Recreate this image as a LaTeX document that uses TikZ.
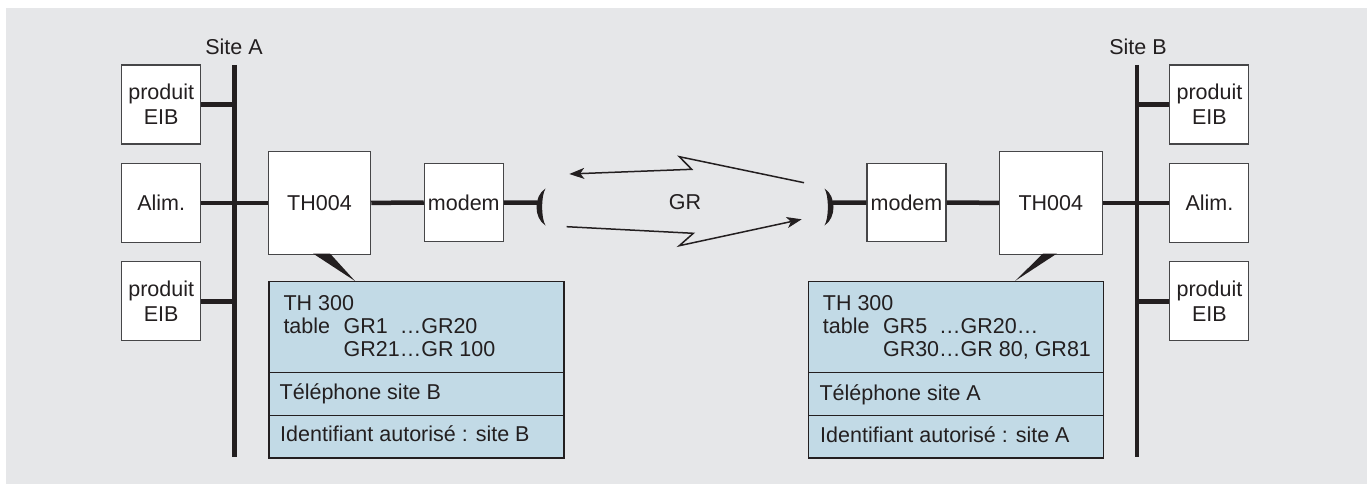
\documentclass[tikz,border=0pt]{standalone}
\usepackage{fontspec}
\setmainfont{Liberation Sans}
\usetikzlibrary{arrows.meta}
\definecolor{bg}{RGB}{230,231,233}
\definecolor{bluebox}{RGB}{194,218,230}
\definecolor{ink}{RGB}{35,31,32}
\definecolor{edge}{RGB}{70,70,72}
\begin{document}
\begin{tikzpicture}[x=1pt,y=-1pt,
  font=\fontsize{21.5}{23}\selectfont, text=ink,
  box/.style={draw=edge, line width=1.1pt, fill=white, inner sep=0pt,
    minimum width=79pt, minimum height=79pt, align=center,
    font=\fontsize{21.5}{25}\selectfont},
  bus/.style={line width=4.8pt, draw=ink},
  link/.style={line width=4.5pt, draw=ink},
  part/.style={draw=ink, line width=1.3pt, fill=bluebox, minimum width=295pt,
    inner sep=0pt, anchor=north west},
  txt/.style={anchor=base west, inner sep=0pt},
  sig/.style={line width=1.5pt, draw=ink, line join=miter,
    -{Stealth[length=15pt,width=11pt,inset=4pt]}}]
\useasboundingbox (0,0) rectangle (1367,484);
\fill[white] (0,0) rectangle (1367,484);
\fill[bg] (6,8) rectangle (1367,484);

% ---------- Site A ----------
\coordinate (busAt) at (234.7,65);
\coordinate (busAb) at (234.7,456.7);
\node (siteA) at (234,47) {Site A};
\node[box] (peA1) at (161.2,104.5) {produit\\EIB};
\node[box, minimum height=79.7pt] (alimA) at (161.2,202.9) {Alim.};
\node[box] (peA2) at (161.2,301.3) {produit\\EIB};
\node[box, minimum width=102.4pt, minimum height=102.3pt] (thA) at (319.5,202.9) {TH004};
\node[box, minimum height=78.4pt] (modemA) at (463.8,202.5) {modem};
\draw[bus] (busAt) -- (busAb);
\draw[link] (peA1.east) -- (peA1.east -| busAt);
\draw[link] (alimA.east) -- (thA.west);
\draw[link] (peA2.east) -- (peA2.east -| busAt);
\draw[link] (thA.east) -- (modemA.west);
\coordinate (parA) at (537,202.7);
\draw[link] (modemA.east) -- (parA);
\fill[ink] (545.5,188.5) .. controls (533.5,196) and (533.5,218) .. (545.5,225.5)
  .. controls (541,218) and (541,196) .. (545.5,188.5) -- cycle;

% callout A
\fill[ink] (313,253.5) -- (330,253.5) -- (355,281) -- cycle;
\node[part, minimum height=91pt] (pA1) at (268.3,281) {};
\node[part, minimum height=43pt] (pA2) at (268.3,372) {};
\node[part, minimum height=42.3pt] (pA3) at (268.3,415) {};
\node[txt] (tA1) at (283.3,310) {\begin{tabular}[t]{@{}l@{\hspace{13.5pt}}l@{}l@{}}
  \multicolumn{3}{@{}l@{}}{TH 300}\\
  table & GR1 & …GR20\\
        & GR21 & …GR 100
  \end{tabular}};
\node[txt] (tA2) at (279.5,399.5) {Téléphone site B};
\node[txt] (tA3) at (280,441.7) {Identifiant autorisé : site B};

% ---------- link ----------
\node (gr) at (685,201.7) {GR};
\coordinate (u1) at (804,182.7);
\coordinate (u2) at (679.3,156.7);
\coordinate (u3) at (691.7,169.3);
\coordinate (u4) at (569.3,174);
\draw[sig] (u1) -- (u2) -- (u3) -- (u4);
\coordinate (l1) at (566.7,226.7);
\coordinate (l2) at (693.3,233.3);
\coordinate (l3) at (679.3,245.7);
\coordinate (l4) at (801.7,219.3);
\draw[sig] (l1) -- (l2) -- (l3) -- (l4);

% ---------- Site B ----------
\coordinate (busBt) at (1137,65);
\coordinate (busBb) at (1137,456.7);
\node (siteB) at (1138,47) {Site B};
\node[box] (peB1) at (1209.4,104.5) {produit\\EIB};
\node[box, minimum height=79.7pt] (alimB) at (1209.4,202.9) {Alim.};
\node[box] (peB2) at (1209.4,301.3) {produit\\EIB};
\node[box, minimum width=103pt, minimum height=102.3pt] (thB) at (1050.8,202.9) {TH004};
\node[box, minimum height=78.4pt] (modemB) at (906.5,202.5) {modem};
\draw[bus] (busBt) -- (busBb);
\draw[link] (peB1.west) -- (peB1.west -| busBt);
\draw[link] (thB.east) -- (alimB.west);
\draw[link] (peB2.west) -- (peB2.west -| busBt);
\draw[link] (modemB.east) -- (thB.west);
\coordinate (parB) at (833,202.7);
\draw[link] (parB) -- (modemB.west);
\fill[ink] (824.5,188.5) .. controls (836.5,196) and (836.5,218) .. (824.5,225.5)
  .. controls (829,218) and (829,196) .. (824.5,188.5) -- cycle;

% callout B
\fill[ink] (1043,253.5) -- (1057,253.5) -- (1015,281) -- cycle;
\node[part, minimum height=91pt] (pB1) at (807.7,281) {};
\node[part, minimum height=43pt] (pB2) at (807.7,372) {};
\node[part, minimum height=42.3pt] (pB3) at (807.7,415) {};
\node[txt] (tB1) at (822.7,310) {\begin{tabular}[t]{@{}l@{\hspace{13.5pt}}l@{}l@{}}
  \multicolumn{3}{@{}l@{}}{TH 300}\\
  table & GR5 & …GR20…\\
        & GR30 & …GR 80, GR81
  \end{tabular}};
\node[txt] (tB2) at (819.3,400) {Téléphone site A};
\node[txt] (tB3) at (820,442) {Identifiant autorisé : site A};
\end{tikzpicture}
\end{document}
